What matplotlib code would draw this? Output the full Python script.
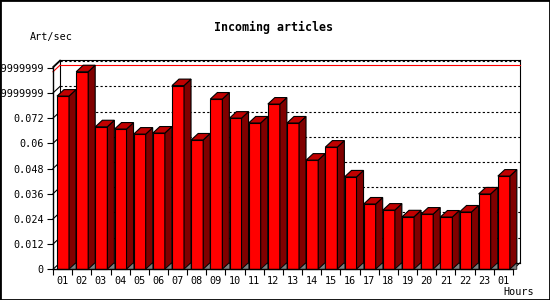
import matplotlib
matplotlib.use("Agg")
import matplotlib.pyplot as plt
from matplotlib.patches import Polygon, Rectangle

# ---- data ----
hours = ["01", "02", "03", "04", "05", "06", "07", "08", "09", "10", "11", "12",
         "13", "14", "15", "16", "17", "18", "19", "20", "21", "22", "23", "01"]
rates = [0.0825, 0.0941, 0.0679, 0.0668, 0.0644, 0.0649, 0.0875, 0.0616,
         0.0811, 0.0720, 0.0697, 0.0787, 0.0697, 0.0520, 0.0582, 0.0440,
         0.0311, 0.0282, 0.0250, 0.0263, 0.0249, 0.0273, 0.0359, 0.0444]
ytick_vals = [0, 0.012, 0.024, 0.036, 0.048, 0.06, 0.072, 0.084, 0.096]
ytick_labels = ["0", "0.012", "0.024", "0.036", "0.048", "0.06", "0.072",
                "0.0839999999", "0.0959999999"]
title = "Incoming articles"
ylabel = "Art/sec"
xlabel = "Hours"

# ---- geometry ----
W, H = 550, 300
fig = plt.figure(figsize=(5.5, 3.0), dpi=100)
fig.patch.set_facecolor("white")

left_px, right_px = 53, 513
bot_px, top_px = 269.3, 66.7
ax = fig.add_axes([left_px / W, 1 - bot_px / H, (right_px - left_px) / W,
                   (bot_px - top_px) / H])
n = len(rates)
ymax = 0.0965
ax.set_xlim(0, n)
ax.set_ylim(0, ymax)
ax.patch.set_alpha(0)

px_x = (right_px - left_px) / n          # px per slot
px_y = (bot_px - top_px) / ymax          # px per unit
dx = 7 / px_x
dy = 6.5 / px_y

for s in ["top", "right"]:
    ax.spines[s].set_visible(False)
for s in ["left", "bottom"]:
    ax.spines[s].set_linewidth(1.0)
    ax.spines[s].set_zorder(20)

mono = "DejaVu Sans Mono"
ax.set_yticks(ytick_vals)
ax.set_yticklabels(ytick_labels, family=mono, fontsize=7.3)
ax.tick_params(axis="y", direction="out", length=4, width=0.8, pad=2.5)

ax.set_xticks([i + 0.5 for i in range(n)])
ax.set_xticklabels(hours, family=mono, fontsize=7.3)
ax.tick_params(axis="x", which="major", length=0, pad=5)
ax.set_xticks(list(range(n + 1)), minor=True)
ax.tick_params(axis="x", which="minor", direction="out", length=4, width=0.8)

lw = 0.8
# back wall frame
ax.plot([dx, dx], [dy, ymax + dy], color="black", lw=lw, clip_on=False, zorder=1)
ax.plot([dx, n + dx], [ymax + dy, ymax + dy], color="black", lw=lw, clip_on=False, zorder=1)
ax.plot([n + dx, n + dx], [dy, ymax + dy], color="black", lw=lw, clip_on=False, zorder=1)
ax.plot([0, dx], [ymax, ymax + dy], color="black", lw=lw, clip_on=False, zorder=1)
ax.plot([0, dx], [0, dy], color="black", lw=lw, clip_on=False, zorder=1)
ax.plot([n, n + dx], [0, dy], color="black", lw=lw, clip_on=False, zorder=1)
ax.plot([dx, n + dx], [dy, dy], color="black", lw=lw, clip_on=False, zorder=1)

# grid on back wall
for v in ytick_vals[1:]:
    ax.plot([0, dx], [v, v + dy], color="black", lw=lw, clip_on=False, zorder=1)
    ax.plot([dx, n + dx], [v + dy, v + dy], color="black", lw=lw,
            linestyle=(0, (2, 2)), clip_on=False, zorder=1)

# max line
mx = max(rates)
ax.plot([0, dx], [mx, mx + dy], color="#ff0000", lw=lw, clip_on=False, zorder=2)
ax.plot([dx, n + dx], [mx + dy, mx + dy], color="#ff0000", lw=lw, clip_on=False, zorder=2)

# bars
off = 0.21
bw = 12 / px_x
xs = [i + off for i in range(n)]
ax.bar(xs, rates, width=bw, align="edge", color="#ff0000", edgecolor="black",
       linewidth=lw, zorder=5, clip_on=False)
for x, v in zip(xs, rates):
    xr = x + bw
    top = Polygon([(x, v), (xr, v), (xr + dx, v + dy), (x + dx, v + dy)],
                  closed=True, facecolor="#c00000", edgecolor="black",
                  linewidth=lw, zorder=5, clip_on=False)
    side = Polygon([(xr, 0), (xr + dx, dy), (xr + dx, v + dy), (xr, v)],
                   closed=True, facecolor="#800000", edgecolor="black",
                   linewidth=lw, zorder=5, clip_on=False)
    shade = Polygon([(xr, 0), (xr + dx, dy), (xr + dx, 0)], closed=True,
                    facecolor="#808080", edgecolor="black", linewidth=0.5,
                    zorder=5, clip_on=False)
    ax.add_patch(side)
    ax.add_patch(top)
    ax.add_patch(shade)

# texts
fig.text(274 / W, 1 - 27 / H, title, ha="center", va="center",
         family=mono, fontweight="bold", fontsize=8.4)
fig.text(30 / W, 1 - 37 / H, ylabel, ha="left", va="center", family=mono, fontsize=7.3)
fig.text(534 / W, 1 - 292 / H, xlabel, ha="right", va="center", family=mono, fontsize=7.3)

# outer border
fig.patches.append(Rectangle((0, 0), 1, 1, transform=fig.transFigure, fill=False,
                             edgecolor="black", linewidth=2, zorder=30))

fig.savefig("out.png", dpi=100)
